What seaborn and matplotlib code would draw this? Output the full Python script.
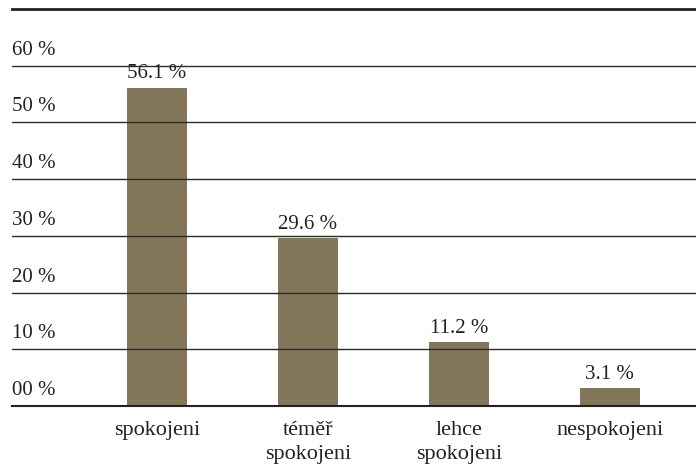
import matplotlib.pyplot as plt
import seaborn as sns
import pandas as pd

# data
categories = ['spokojeni', 'téměř\nspokojeni', 'lehce\nspokojeni', 'nespokojeni']
shares = [56.1, 29.6, 11.2, 3.1]
y_ticks = [0, 10, 20, 30, 40, 50, 60]
y_tick_labels = ['00 %', '10 %', '20 %', '30 %', '40 %', '50 %', '60 %']

df = pd.DataFrame({'category': categories, 'share': shares})

sns.set_style('white')
plt.rcParams['font.family'] = ['Liberation Serif', 'DejaVu Serif']

fig = plt.figure(figsize=(6.96, 4.77), dpi=100)
ax = fig.add_axes([12 / 696, 70 / 477, 684 / 696, 397 / 477])

sns.barplot(data=df, x='category', y='share', color='#847759', width=0.4,
            saturation=1, linewidth=0, ax=ax, zorder=1)

ax.set_xlim(-0.96, 3.57)
ax.set_ylim(0, 70)

ax.set_yticks(y_ticks)
ax.set_yticklabels([])
ax.tick_params(axis='y', length=0)

# horizontal rules, drawn over the bars as in the original
for v in y_ticks[1:]:
    ax.axhline(v, color='#2b2b2b', linewidth=1, zorder=4)

# y labels sit above their rules
for v, lab in zip(y_ticks, y_tick_labels):
    ax.annotate(lab, xy=(0, v), xycoords=('axes fraction', 'data'),
                xytext=(0, 5), textcoords='offset points',
                ha='left', va='bottom', fontsize=15, color='#222222')

# value labels above bars
for i, v in enumerate(shares):
    ax.annotate(f'{v:.1f} %', xy=(i, v), xytext=(0, 4), textcoords='offset points',
                ha='center', va='bottom', fontsize=15, color='#222222')

ax.tick_params(axis='x', length=0, pad=10, labelsize=16, labelcolor='#222222')
for lab in ax.get_xticklabels():
    lab.set_linespacing(1.35)
ax.set_xlabel('')
ax.set_ylabel('')

for side in ['left', 'right']:
    ax.spines[side].set_visible(False)
ax.spines['top'].set_color('#222222')
ax.spines['top'].set_linewidth(2)
ax.spines['bottom'].set_color('#222222')
ax.spines['bottom'].set_linewidth(1.5)
ax.spines['bottom'].set_zorder(5)

fig.savefig('out.png', dpi=100)
